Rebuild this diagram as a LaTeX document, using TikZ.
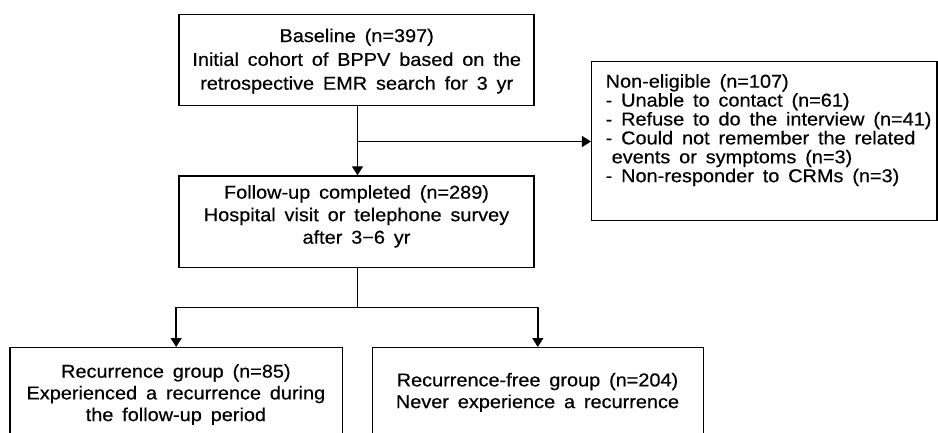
\documentclass[tikz,border=0pt]{standalone}
\usepackage{fontspec}
\setmainfont{Liberation Sans}[FakeStretch=1.07,WordSpace=1.6,FakeBold=0.4]
\usetikzlibrary{arrows.meta}
\begin{document}
\begin{tikzpicture}[x=1pt,y=1pt,
  box/.style={draw=black, line width=1.4pt, inner sep=0pt, rectangle},
  txt/.style={inner sep=0pt, align=center},
  arr/.style={line width=1.4pt, -{Triangle[length=9pt,width=11pt]}},
  ln/.style={line width=1.4pt}]
\useasboundingbox (0,0) rectangle (938,432);
\clip (0,0) rectangle (938,432);
\fill[white] (0,0) rectangle (938,432);
% boxes
\node[box, minimum width=355pt, minimum height=91pt] (base) at (356.5,372.2) {};
\node[box, minimum width=355pt, minimum height=91.3pt] (follow) at (356.5,210.35) {};
\node[box, minimum width=345.3pt, minimum height=159pt] (nonel) at (764.3,290.8) {};
\node[box, minimum width=332.3pt, minimum height=104.3pt] (rec) at (176.15,32.15) {};
\node[box, minimum width=331pt, minimum height=104.3pt] (free) at (537.8,32.15) {};
% texts
\node[txt, anchor=north, font=\fontsize{18.6}{23.8}\selectfont] (basetxt) at (356.7,403.6)
  {Baseline (n=397)\\Initial cohort of BPPV based on the\\retrospective EMR search for 3 yr};
\node[txt, anchor=north, font=\fontsize{18.6}{22.5}\selectfont] (followtxt) at (356.5,247)
  {Follow-up completed (n=289)\\Hospital visit or telephone survey\\after 3−6 yr};
\node[txt, anchor=north west, align=left, font=\fontsize{18.6}{18.9}\selectfont] (noneltxt) at (605.5,358)
  {Non-eligible (n=107)\\- Unable to contact (n=61)\\- Refuse to do the interview (n=41)\\- Could not remember the related\\\hspace*{6pt}events or symptoms (n=3)\\- Non-responder to CRMs (n=3)};
\node[txt, anchor=north, font=\fontsize{18.6}{21.7}\selectfont] (rectxt) at (175.9,68)
  {Recurrence group (n=85)\\Experienced a recurrence during\\the follow-up period};
\node[txt, anchor=north, font=\fontsize{18.6}{21.7}\selectfont] (freetxt) at (537.5,59.3)
  {Recurrence-free group (n=204)\\Never experience a recurrence};
% connectors
\coordinate (br) at (357.5,290.5);
\coordinate (split) at (357.5,124.5);
\draw[arr] (base.south -| br) -- (follow.north -| br);
\draw[arr] (br) -- (br -| nonel.west);
\draw[ln] (follow.south -| split) -- (split);
\draw[arr] (split) -| (rec.north);
\draw[arr] (split) -| (free.north);
\end{tikzpicture}
\end{document}
